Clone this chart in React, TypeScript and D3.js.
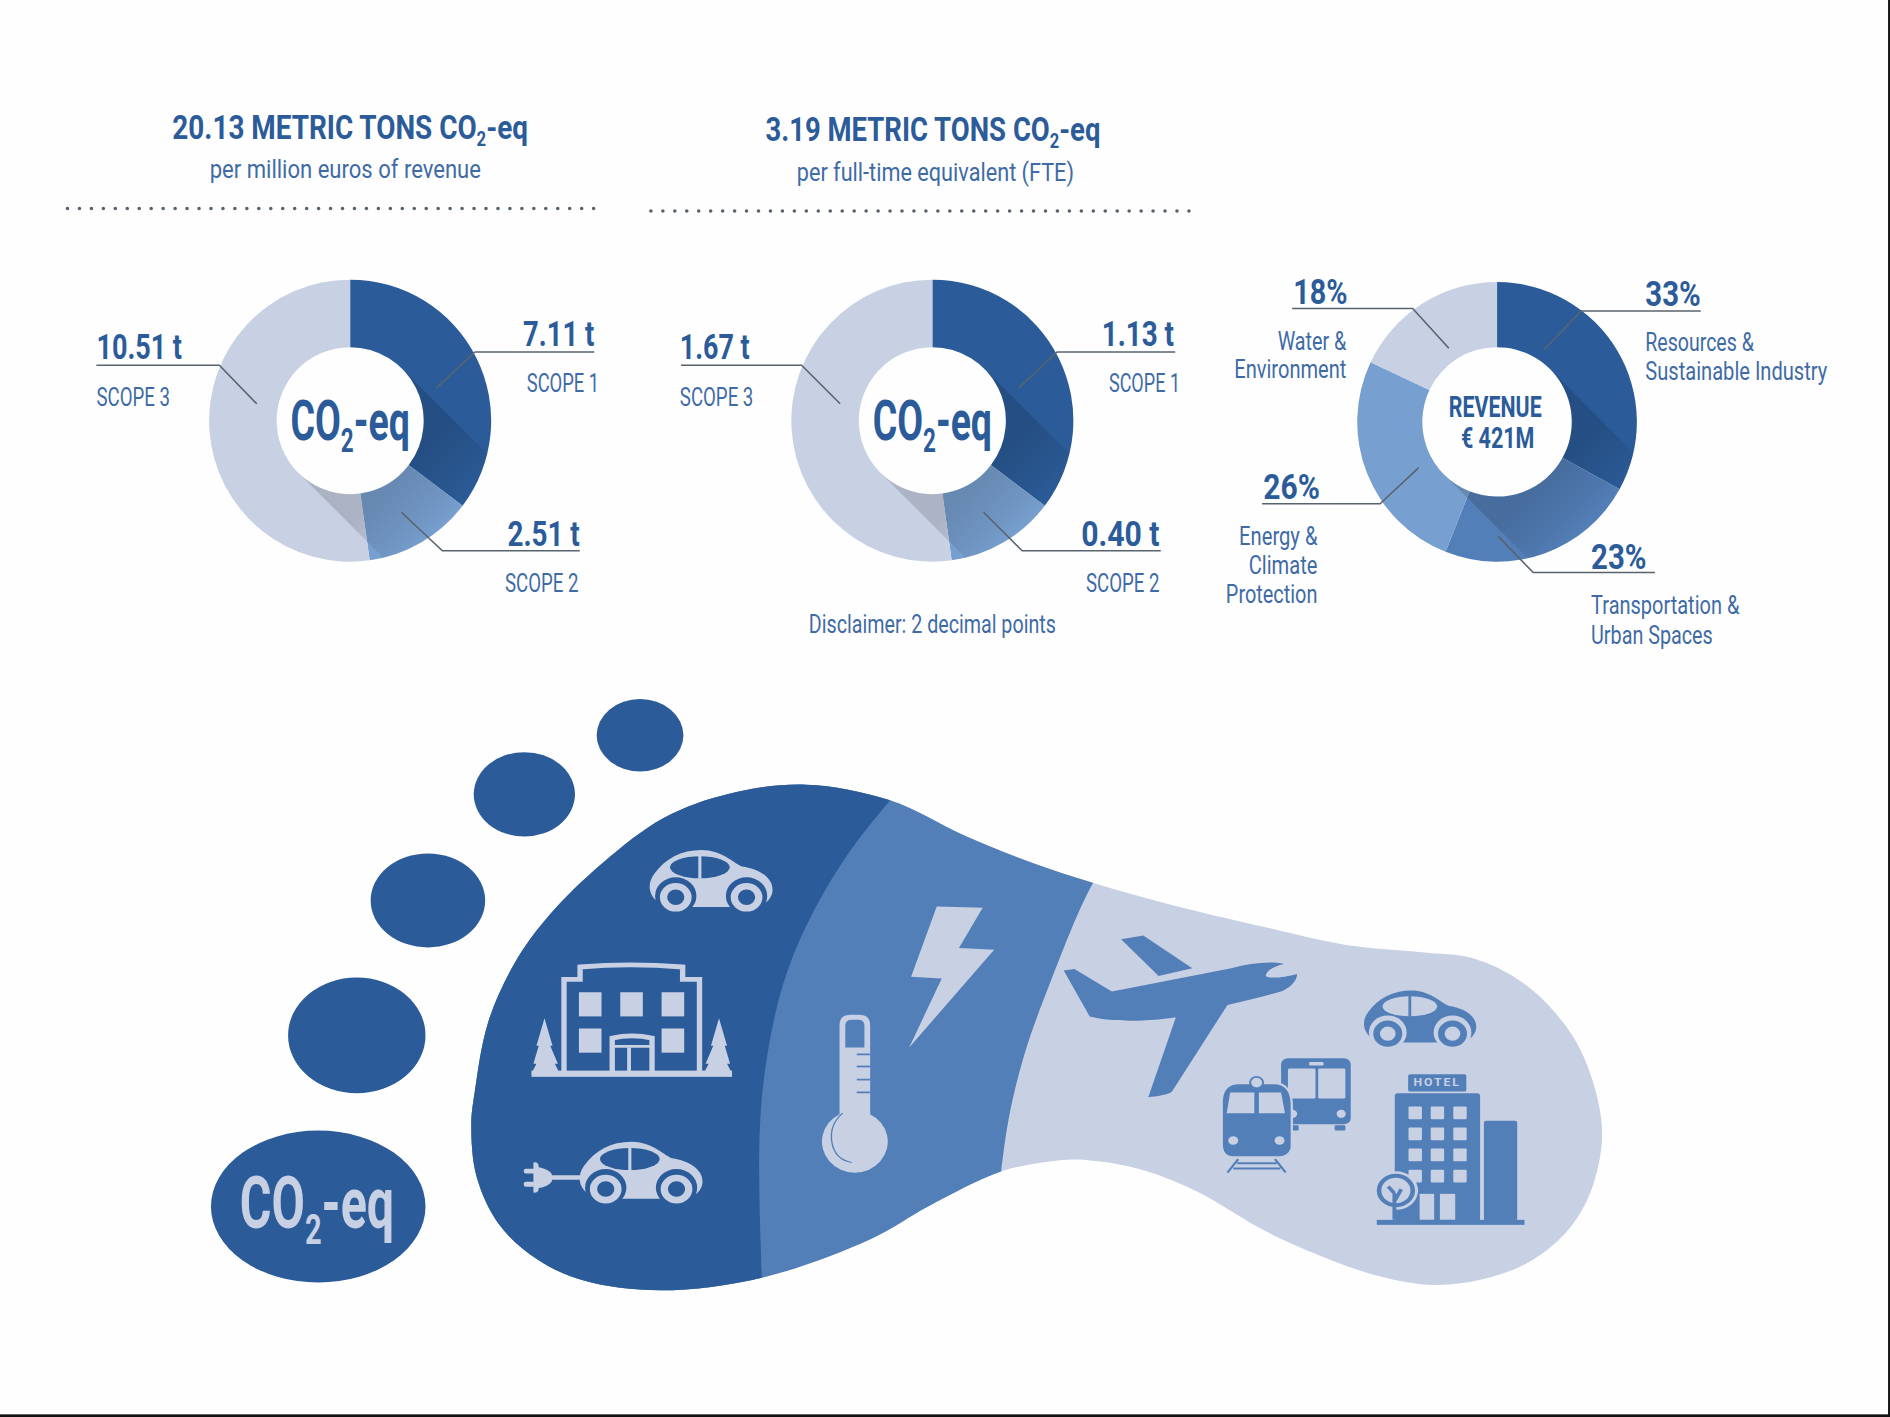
import * as d3 from 'd3';

// values
const scopeNames = ['SCOPE 1', 'SCOPE 2', 'SCOPE 3'];
const revenueScopes = [7.11, 2.51, 10.51];
const fteScopes = [1.13, 0.4, 1.67];
const sectorShares = [33, 23, 26, 18];
const sectorNames = [
  ['Resources &', 'Sustainable Industry'],
  ['Transportation &', 'Urban Spaces'],
  ['Energy &', 'Climate', 'Protection'],
  ['Water &', 'Environment'],
];

const DARK = '#2b5c99';
const MID = '#537fb8';
const SOFT = '#779fcf';
const PALE = '#c8d0e4';
const INK = '#2b5c99';
const LABEL = '#3e6ba6';
const LEADER = '#59636e';
const FONT = 'Roboto, sans-serif';

const scopeColor = d3.scaleOrdinal<number, string>().domain([0, 1, 2]).range([DARK, SOFT, PALE]);
const sectorColor = d3.scaleOrdinal<number, string>().domain([0, 1, 2, 3]).range([DARK, MID, SOFT, PALE]);

function Txt({ x, y, w, size, bold, fill, children }: any) {
  return (
    <text
      x={x}
      y={y}
      textLength={w}
      lengthAdjust="spacingAndGlyphs"
      fontFamily={FONT}
      fontSize={size}
      fontWeight={bold ? 700 : 400}
      fill={fill || LABEL}
    >
      {children}
    </text>
  );
}

function Co2({ sub, after }: { sub: number; after: string }) {
  return (
    <>
      CO
      <tspan dy={sub * 0.22} fontSize={sub * 0.6}>2</tspan>
      <tspan dy={-sub * 0.22}>{after}</tspan>
    </>
  );
}

const leaderLine = d3.line();

function Donut({ id, cx, cy, r, r0, values, color, leaders }: any) {
  const slices = d3.pie<number>().sort(null)(values);
  const arc = d3.arc<any>().innerRadius(r0).outerRadius(r);
  const ring = d3.arc<any>().innerRadius(r0).outerRadius(r).startAngle(0).endAngle(Math.PI * 2)({} as any);
  const k = Math.SQRT1_2;
  const run = r * 2;
  // long shadow thrown by the centre circle towards lower right
  const shadow = d3.line()([
    [r0 * k, -r0 * k],
    [r0 * k + run, -r0 * k + run],
    [-r0 * k + run, r0 * k + run],
    [-r0 * k, r0 * k],
  ]);
  return (
    <g>
      <defs>
        <clipPath id={`ring-${id}`}>
          <path d={ring as string} transform={`translate(${cx},${cy})`} />
        </clipPath>
        <linearGradient id={`fade-${id}`} gradientUnits="userSpaceOnUse" x1={0} y1={0} x2={r * k} y2={r * k}>
          <stop offset={r0 / r} stopColor="#000" stopOpacity={0.14} />
          <stop offset={0.85} stopColor="#000" stopOpacity={0.06} />
          <stop offset={1} stopColor="#000" stopOpacity={0} />
        </linearGradient>
      </defs>
      <g transform={`translate(${cx},${cy})`}>
        {slices.map((s, i) => (
          <path key={i} d={arc(s) as string} fill={color(i)} />
        ))}
      </g>
      <g clipPath={`url(#ring-${id})`}>
        <g transform={`translate(${cx},${cy})`}>
          <path d={shadow as string} fill={`url(#fade-${id})`} />
        </g>
      </g>
      {leaders.map((pts: [number, number][], i: number) => (
        <path key={i} d={leaderLine(pts) as string} fill="none" stroke={LEADER} strokeWidth={1.3} />
      ))}
    </g>
  );
}

function DottedRule({ x1, x2, y }: any) {
  return (
    <line x1={x1} x2={x2} y1={y} y2={y} stroke="#59636e" strokeWidth={3} strokeLinecap="round" strokeDasharray="0 9.92" />
  );
}

// ---- illustration ----

const outline: [number, number][] = [
  [668.6, 651], [738.4, 664], [802, 694], [871, 721], [958, 747], [1053, 770], [1117, 784], [1180, 790],
  [1222, 795], [1260, 813], [1291, 841], [1314, 877], [1329, 935], [1322, 982], [1303, 1018], [1272, 1045],
  [1235, 1060], [1190, 1066], [1145, 1059], [1101, 1044], [1053, 1023], [990, 987], [942, 969], [894, 962],
  [871, 963.6], [830.5, 972], [770, 1001], [722.6, 1028], [633.7, 1059.6], [548, 1070.5], [484.4, 1062.4],
  [446, 1045], [414.6, 1016.6], [395.5, 976.5], [391, 933.5], [394, 905], [405, 848], [427, 799], [456, 759],
  [500, 716], [551, 678.5], [605, 658.5],
];
const darkEdge: [number, number][] = [
  [765, 630], [738.4, 664], [706.7, 704], [675, 756], [652.7, 807.4], [638.4, 864.7], [630.5, 933.5], [632, 1059.6], [634, 1100],
];
const midEdge: [number, number][] = [
  [930, 700], [906, 734], [871, 816], [849.5, 876], [836.9, 927.8], [830.5, 972], [826, 1010],
];
const toes: [number, number, number, number][] = [
  [531, 610, 36, 30], [435, 659, 42, 35], [355, 747, 47.5, 39], [296, 859, 57, 48], [264, 1001, 89, 63],
];

const edgeCurve = d3.line().curve(d3.curveCatmullRom.alpha(0.5));
const outlineCurve = d3.line().curve(d3.curveCatmullRomClosed.alpha(0.5));

function Car({ x, y, sx = 1, sy = 1, fg, bg }: any) {
  return (
    <g transform={`translate(${x},${y}) scale(${sx},${sy})`}>
      <path
        d="M25,150 C0,130 -2,95 15,70 C45,25 85,0 140,0 C190,0 220,35 245,48 C290,55 325,80 325,115 C325,130 318,140 312,148 L290,165 L50,165 Z"
        fill={fg}
      />
      <ellipse cx={135} cy={50} rx={78} ry={32} fill={bg} />
      <rect x={131} y={15} width={8} height={68} fill={fg} />
      {[72, 257].map((c) => (
        <g key={c}>
          <circle cx={c} cy={133} r={54} fill={bg} />
          <circle cx={c} cy={137} r={32} fill="none" stroke={fg} strokeWidth={19} />
        </g>
      ))}
    </g>
  );
}

function LeftIcons() {
  const fg = PALE;
  const bg = DARK;
  const tree = 'M247,690 L268,770 L262,770 L282,822 L274,822 L287,850 H213 L226,822 L218,822 L232,770 L226,770 Z';
  return (
    <>
      <Car x={518} y={203} fg={fg} bg={bg} />
      {/* building */}
      <path d="M298,845 V578 H340 V542 Q470,530 608,542 V578 H652 V845" fill="none" stroke={fg} strokeWidth={14} />
      <rect x={213} y={842} width={524} height={18} fill={fg} />
      {[[337, 615], [445, 615], [553, 615], [337, 720], [553, 720]].map(([x, y]) => (
        <rect key={`${x}-${y}`} x={x} y={y} width={59} height={70} fill={fg} />
      ))}
      <path d="M424,845 V748 Q475,735 528,748 V845" fill="none" stroke={fg} strokeWidth={14} />
      <rect x={463} y={775} width={10} height={70} fill={fg} />
      <path d="M424,772 H528" stroke={fg} strokeWidth={8} />
      <path d={tree} fill={fg} />
      <path d={tree} fill={fg} transform="translate(950,0) scale(-1,1)" />
      {/* plug-in car */}
      <Car x={335} y={1048} fg={fg} bg={bg} />
      <rect x={262} y={1145} width={90} height={13} fill={fg} />
      <path d="M218,1108 Q232,1105 232,1122 Q268,1130 268,1152 Q268,1175 232,1182 Q232,1198 218,1195 Z" fill={fg} />
      <rect x={193} y={1126} width={30} height={14} rx={5} fill={fg} />
      <rect x={193} y={1164} width={30} height={14} rx={5} fill={fg} />
    </>
  );
}

function MidIcons() {
  const fg = PALE;
  const bg = MID;
  return (
    <>
      <path d="M1272,367 L1392,370 L1330,487 L1422,492 L1200,775 L1285,575 L1205,570 Z" fill={fg} />
      <path
        d="M1018,968 V710 Q1018,680 1048,680 H1068 Q1098,680 1098,710 V968 A86,90 0 1 1 1018,968 Z"
        fill={fg}
      />
      <path d="M1033,775 V712 Q1033,695 1050,695 H1066 Q1083,695 1083,712 V775 Z" fill={bg} />
      {[795, 830, 868, 905].map((y) => (
        <line key={y} x1={1063} x2={1098} y1={y} y2={y} stroke={bg} strokeWidth={5} />
      ))}
      <path d="M1026,965 Q990,1000 998,1050 Q1006,1100 1050,1108" fill="none" stroke={bg} strokeWidth={3.5} />
    </>
  );
}

function RightIcons() {
  const fg = MID;
  const bg = PALE;
  const hotelCols = [963, 1021, 1080];
  const hotelRows = [620, 683, 746, 810];
  return (
    <>
      {/* plane */}
      <path d="M212,118 L270,107 L398,205 L310,228 Z" fill={fg} />
      <path
        d="M62,212 L90,207 L188,275 L500,205 C550,190 600,183 638,192 C610,198 590,215 590,228 C600,238 640,232 672,222 C672,245 650,265 630,275 C590,288 540,302 490,315 L345,575 C335,585 305,590 283,592 L355,352 C300,362 200,370 130,350 Z"
        fill={fg}
      />
      <Car x={843} y={272} sx={0.914} sy={0.944} fg={fg} bg={bg} />
      {/* bus */}
      <rect x={630} y={475} width={182} height={198} rx={18} fill={fg} />
      <rect x={648} y={506} width={72} height={90} rx={4} fill={bg} />
      <rect x={727} y={506} width={71} height={90} rx={4} fill={bg} />
      <rect x={703} y={486} width={38} height={11} rx={4} fill={bg} />
      <circle cx={787} cy={642} r={12} fill={bg} />
      <circle cx={660} cy={642} r={12} fill={bg} />
      <rect x={770} y={676} width={28} height={16} rx={3} fill={fg} />
      <rect x={650} y={676} width={26} height={16} rx={3} fill={fg} />
      {/* train */}
      <path
        d="M475,740 V600 Q478,550 520,550 H612 Q655,550 658,610 V745 Q650,772 625,772 H505 Q478,772 475,740 Z"
        fill={fg}
        stroke={bg}
        strokeWidth={6}
      />
      <circle cx={566} cy={548} r={17} fill={bg} stroke={fg} strokeWidth={5} />
      <path d="M497,578 H560 V640 H488 Z" fill={bg} />
      <path d="M572,578 H630 L640,640 H572 Z" fill={bg} />
      <circle cx={505} cy={722} r={13} fill={bg} />
      <circle cx={626} cy={722} r={13} fill={bg} />
      <path d="M518,778 L490,818 M614,778 L642,818 M515,790 H618 M505,806 H628" stroke={fg} strokeWidth={6} fill="none" />
      {/* hotel */}
      <rect x={962} y={523} width={152} height={52} rx={5} fill={fg} />
      <text x={1038} y={559} textAnchor="middle" fontFamily="Roboto, sans-serif" fontWeight={700} fontSize={32} letterSpacing={5} fill={bg}>
        HOTEL
      </text>
      <rect x={927} y={580} width={223} height={385} rx={8} fill={fg} />
      {hotelCols.map((x) =>
        hotelRows.map((y) => <rect key={`${x}-${y}`} x={x} y={y} width={35} height={38} rx={3} fill={bg} />),
      )}
      <rect x={992} y={882} width={38} height={78} fill={bg} />
      <rect x={1045} y={882} width={40} height={78} fill={bg} />
      <rect x={1160} y={663} width={87} height={300} rx={6} fill={fg} />
      <rect x={880} y={960} width={386} height={15} fill={fg} />
      <circle cx={930} cy={872} r={58} fill={bg} />
      <circle cx={930} cy={872} r={44} fill="none" stroke={fg} strokeWidth={12} />
      <path d="M926,960 V880 M926,905 L944,868 M926,880 L910,860" stroke={fg} strokeWidth={10} fill="none" />
    </>
  );
}

export default function App() {
  const revenueText = revenueScopes.map((v) => `${v.toFixed(2)} t`);
  const fteText = fteScopes.map((v) => `${v.toFixed(2)} t`);
  const shareText = sectorShares.map((v) => `${v}%`);
  return (
    <svg
      width={1890}
      height={1417}
      viewBox="0 0 1568 1175.6"
      preserveAspectRatio="none"
      style={{ position: 'absolute', left: 0, top: 0, display: 'block' }}
    >
      <rect width={1568} height={1176} fill="#fefefe" />

      {/* headings */}
      <Txt x={143} y={115} w={295} size={28} bold fill={INK}>
        20.13 METRIC TONS <Co2 sub={28} after="-eq" />
      </Txt>
      <Txt x={174} y={148} w={225} size={22}>per million euros of revenue</Txt>
      <DottedRule x1={56} x2={494} y={173} />

      <Txt x={635} y={117} w={278} size={28} bold fill={INK}>
        3.19 METRIC TONS <Co2 sub={28} after="-eq" />
      </Txt>
      <Txt x={661} y={150} w={230} size={22}>per full-time equivalent (FTE)</Txt>
      <DottedRule x1={540} x2={992} y={175} />

      {/* per revenue */}
      <Donut
        id="rev"
        cx={290.5}
        cy={349}
        r={117}
        r0={61}
        values={revenueScopes}
        color={scopeColor}
        leaders={[
          [[493, 292], [394, 292], [362, 322]],
          [[481, 457], [367, 457], [333, 425]],
          [[80, 303], [182, 303], [213, 335]],
        ]}
      />
      <Txt x={241} y={365} w={99} size={46} bold fill={INK}><Co2 sub={46} after="-eq" /></Txt>
      <Txt x={434} y={287} w={59} size={29} bold fill={INK}>{revenueText[0]}</Txt>
      <Txt x={437} y={325} w={60} size={21}>{scopeNames[0]}</Txt>
      <Txt x={421} y={453} w={60} size={29} bold fill={INK}>{revenueText[1]}</Txt>
      <Txt x={419} y={491} w={61} size={21}>{scopeNames[1]}</Txt>
      <Txt x={80} y={298} w={71} size={29} bold fill={INK}>{revenueText[2]}</Txt>
      <Txt x={80} y={337} w={61} size={21}>{scopeNames[2]}</Txt>

      {/* per FTE */}
      <Donut
        id="fte"
        cx={773.5}
        cy={349}
        r={117}
        r0={61}
        values={fteScopes}
        color={scopeColor}
        leaders={[
          [[975, 292], [877, 292], [845, 322]],
          [[963, 457], [848, 457], [816, 425]],
          [[565, 303], [665, 303], [697, 335]],
        ]}
      />
      <Txt x={724} y={365} w={99} size={46} bold fill={INK}><Co2 sub={46} after="-eq" /></Txt>
      <Txt x={914} y={287} w={60} size={29} bold fill={INK}>{fteText[0]}</Txt>
      <Txt x={920} y={325} w={59} size={21}>{scopeNames[0]}</Txt>
      <Txt x={897} y={453} w={65} size={29} bold fill={INK}>{fteText[1]}</Txt>
      <Txt x={901} y={491} w={61} size={21}>{scopeNames[1]}</Txt>
      <Txt x={564} y={298} w={58} size={29} bold fill={INK}>{fteText[2]}</Txt>
      <Txt x={564} y={337} w={61} size={21}>{scopeNames[2]}</Txt>
      <Txt x={671} y={525} w={205} size={21}>Disclaimer: 2 decimal points</Txt>

      {/* revenue split */}
      <Donut
        id="sec"
        cx={1242}
        cy={350}
        r={116}
        r0={62}
        values={sectorShares}
        color={sectorColor}
        leaders={[
          [[1411, 258], [1312, 258], [1281, 290]],
          [[1373, 475], [1272, 475], [1243, 445]],
          [[1047, 418], [1145, 418], [1177, 388]],
          [[1072, 256], [1172, 256], [1202, 289]],
        ]}
      />
      <Txt x={1202} y={346} w={77} size={24} bold fill={INK}>REVENUE</Txt>
      <Txt x={1212} y={372} w={61} size={24} bold fill={INK}>€ 421M</Txt>

      <Txt x={1365} y={254} w={46} size={29} bold fill={INK}>{shareText[0]}</Txt>
      <Txt x={1365} y={291} w={90} size={21}>{sectorNames[0][0]}</Txt>
      <Txt x={1365} y={315} w={151} size={21}>{sectorNames[0][1]}</Txt>
      <Txt x={1320} y={472} w={46} size={29} bold fill={INK}>{shareText[1]}</Txt>
      <Txt x={1320} y={509} w={123} size={21}>{sectorNames[1][0]}</Txt>
      <Txt x={1320} y={534} w={101} size={21}>{sectorNames[1][1]}</Txt>
      <Txt x={1048} y={414} w={47} size={29} bold fill={INK}>{shareText[2]}</Txt>
      <Txt x={1028} y={452} w={65} size={21}>{sectorNames[2][0]}</Txt>
      <Txt x={1036} y={476} w={57} size={21}>{sectorNames[2][1]}</Txt>
      <Txt x={1017} y={500} w={76} size={21}>{sectorNames[2][2]}</Txt>
      <Txt x={1073} y={252} w={45} size={29} bold fill={INK}>{shareText[3]}</Txt>
      <Txt x={1060} y={290} w={57} size={21}>{sectorNames[3][0]}</Txt>
      <Txt x={1024} y={314} w={93} size={21}>{sectorNames[3][1]}</Txt>

      {/* footprint */}
      <defs>
        <clipPath id="foot">
          <path d={outlineCurve(outline) as string} />
        </clipPath>
      </defs>
      <g clipPath="url(#foot)">
        <rect x={350} y={600} width={1000} height={500} fill={PALE} />
        <path d={`${edgeCurve(midEdge)} L826,1100 L350,1100 L350,600 L930,600 Z`} fill={MID} />
        <path d={`${edgeCurve(darkEdge)} L350,1100 L350,600 L765,600 Z`} fill={DARK} />
      </g>
      {toes.map(([cx, cy, rx, ry]) => (
        <ellipse key={cx} cx={cx} cy={cy} rx={rx} ry={ry} fill={DARK} />
      ))}
      <Txt x={199} y={1019} w={128} size={60} bold fill={PALE}><Co2 sub={60} after="-eq" /></Txt>

      {/* icon coordinates below are drawn in a local grid per group */}
      <g transform="translate(373.3,647) scale(0.3175,0.2865)">
        <LeftIcons />
        <MidIcons />
      </g>
      <g transform="translate(862.8,746.6) scale(0.3175,0.2765)">
        <RightIcons />
      </g>

      {/* black edge of the source image */}
      <rect x={0} y={1173.4} width={1568} height={2.2} fill="#111" />
      <rect x={1566.4} y={0} width={1.6} height={1176} fill="#111" />
    </svg>
  );
}
